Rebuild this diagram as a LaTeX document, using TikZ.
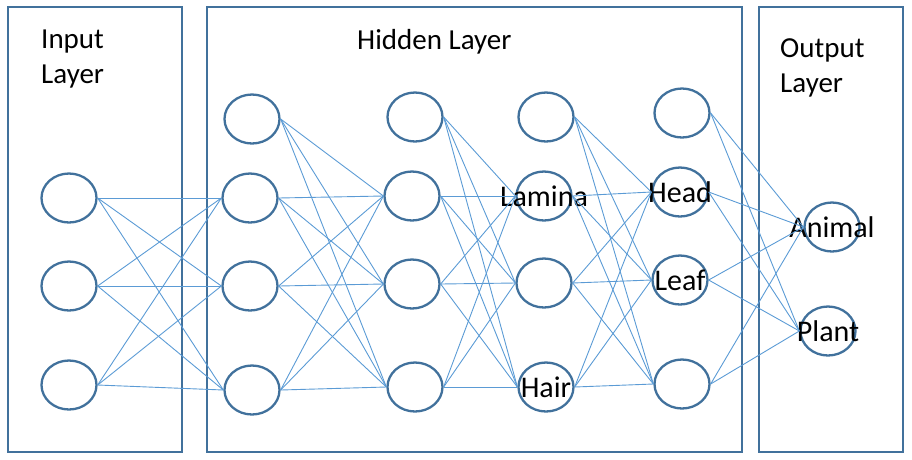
\documentclass[tikz,border=0pt]{standalone}
\usepackage{fontspec}
\setmainfont{Carlito}
\usetikzlibrary{shapes.geometric}

\definecolor{boxblue}{HTML}{41719C}
\definecolor{linkblue}{HTML}{5B9BD5}

\tikzset{
    layerbox/.style={draw=boxblue, line width=2pt},
    neuron/.style={ellipse, draw=boxblue, line width=2.3pt, minimum width=55pt, minimum height=49pt, inner sep=0pt},
    link/.style={draw=linkblue, line width=0.9pt},
    lbl/.style={anchor=base west, inner sep=0pt, align=left, font=\fontsize{29}{35}\selectfont},
    every label/.style={font=\fontsize{30}{35}\selectfont, inner sep=0pt}
}

\begin{document}
\begin{tikzpicture}[x=1pt, y=-1pt]

    \useasboundingbox (0,0) rectangle (912,459);

    % layers
    \draw[layerbox] (8,7) rectangle (182,452);
    \draw[layerbox] (207,7) rectangle (742,452);
    \draw[layerbox] (759,7) rectangle (903,452);

    \node[lbl] (inname) at (41,83) {Input\\Layer};
    \node[lbl] (hidname) at (357,49) {Hidden Layer};
    \node[lbl] (outname) at (780,92) {Output\\Layer};

    % neurons
    \node[neuron] (i1) at (69,198) {};
    \node[neuron] (i2) at (69,286) {};
    \node[neuron] (i3) at (69,385) {};

    \node[neuron] (a1) at (252,119) {};
    \node[neuron] (a2) at (250,198) {};
    \node[neuron] (a3) at (250,286) {};
    \node[neuron] (a4) at (252,390) {};

    \node[neuron] (b1) at (415,117) {};
    \node[neuron] (b2) at (412,196) {};
    \node[neuron] (b3) at (412,284) {};
    \node[neuron] (b4) at (415,387) {};

    \node[neuron] (c1) at (546,117) {};
    \node[neuron, label={center:Lamina}] (c2) at (544,196) {};
    \node[neuron] (c3) at (544,283) {};
    \node[neuron, label={center:Hair}] (c4) at (546,387) {};

    \node[neuron] (d1) at (682,113) {};
    \node[neuron, label={center:Head}] (d2) at (680,192) {};
    \node[neuron, label={center:Leaf}] (d3) at (680,280) {};
    \node[neuron] (d4) at (682,384) {};

    \node[neuron, label={center:Animal}] (o1) at (832,227) {};
    \node[neuron, label={center:Plant}] (o2) at (828,331) {};

    % input -> first hidden
    \draw[link] (i1.east) -- (a2.west);
    \draw[link] (i1.east) -- (a3.west);
    \draw[link] (i1.east) -- (a4.west);
    \draw[link] (i2.east) -- (a2.west);
    \draw[link] (i2.east) -- (a3.west);
    \draw[link] (i2.east) -- (a4.west);
    \draw[link] (i3.east) -- (a2.west);
    \draw[link] (i3.east) -- (a3.west);
    \draw[link] (i3.east) -- (a4.west);

    \draw[link] (a1.east) -- (b2.west);
    \draw[link] (a1.east) -- (b3.west);
    \draw[link] (a1.east) -- (b4.west);
    \draw[link] (a2.east) -- (b2.west);
    \draw[link] (a2.east) -- (b3.west);
    \draw[link] (a2.east) -- (b4.west);
    \draw[link] (a3.east) -- (b2.west);
    \draw[link] (a3.east) -- (b3.west);
    \draw[link] (a3.east) -- (b4.west);
    \draw[link] (a4.east) -- (b2.west);
    \draw[link] (a4.east) -- (b3.west);
    \draw[link] (a4.east) -- (b4.west);

    \draw[link] (b1.east) -- (c2.west);
    \draw[link] (b1.east) -- (c3.west);
    \draw[link] (b1.east) -- (c4.west);
    \draw[link] (b2.east) -- (c2.west);
    \draw[link] (b2.east) -- (c3.west);
    \draw[link] (b2.east) -- (c4.west);
    \draw[link] (b3.east) -- (c2.west);
    \draw[link] (b3.east) -- (c3.west);
    \draw[link] (b3.east) -- (c4.west);
    \draw[link] (b4.east) -- (c2.west);
    \draw[link] (b4.east) -- (c3.west);
    \draw[link] (b4.east) -- (c4.west);

    \draw[link] (c1.east) -- (d2.west);
    \draw[link] (c1.east) -- (d3.west);
    \draw[link] (c1.east) -- (d4.west);
    \draw[link] (c2.east) -- (d2.west);
    \draw[link] (c2.east) -- (d3.west);
    \draw[link] (c2.east) -- (d4.west);
    \draw[link] (c3.east) -- (d2.west);
    \draw[link] (c3.east) -- (d3.west);
    \draw[link] (c3.east) -- (d4.west);
    \draw[link] (c4.east) -- (d2.west);
    \draw[link] (c4.east) -- (d3.west);
    \draw[link] (c4.east) -- (d4.west);

    % last hidden -> output
    \draw[link] (d1.east) -- (o1.west);
    \draw[link] (d1.east) -- (o2.west);
    \draw[link] (d2.east) -- (o1.west);
    \draw[link] (d2.east) -- (o2.west);
    \draw[link] (d3.east) -- (o1.west);
    \draw[link] (d3.east) -- (o2.west);
    \draw[link] (d4.east) -- (o1.west);
    \draw[link] (d4.east) -- (o2.west);

\end{tikzpicture}
\end{document}
